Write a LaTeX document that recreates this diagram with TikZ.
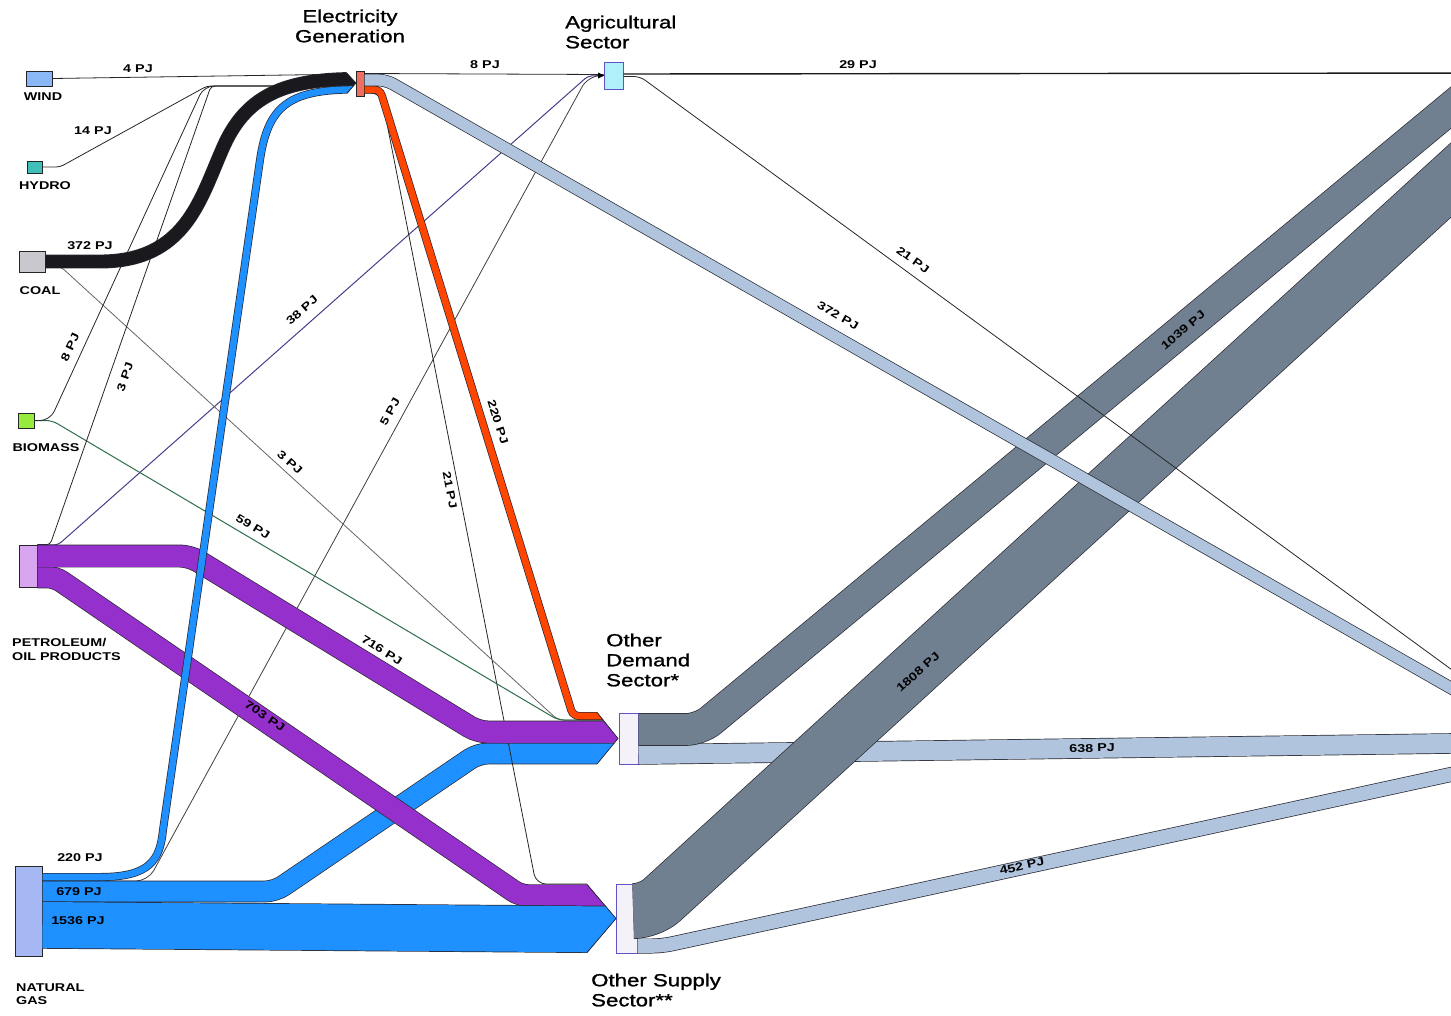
\documentclass[tikz,border=0pt]{standalone}
\usepackage{fontspec}
\setmainfont{Liberation Sans}[FakeStretch=1.27]
\newfontfamily\headfont{Liberation Sans}[FakeStretch=1.27, FakeBold=1.2]
\usetikzlibrary{calc}

\definecolor{windc}{RGB}{138,184,246}
\definecolor{hydroc}{RGB}{64,190,184}
\definecolor{coalbox}{RGB}{200,200,206}
\definecolor{bioc}{RGB}{150,236,60}
\definecolor{petbox}{RGB}{216,166,240}
\definecolor{gasbox}{RGB}{166,184,244}
\definecolor{elecbox}{RGB}{240,110,96}
\definecolor{agribox}{RGB}{176,240,250}
\definecolor{sectbox}{RGB}{244,242,248}
\definecolor{sectedge}{RGB}{96,84,196}
\definecolor{coalband}{RGB}{26,26,30}
\definecolor{gasband}{RGB}{30,144,255}
\definecolor{petband}{RGB}{150,48,204}
\definecolor{elband}{RGB}{255,69,0}
\definecolor{lsblue}{RGB}{176,196,222}
\definecolor{sgrey}{RGB}{112,128,144}
\definecolor{dslate}{RGB}{72,61,139}
\definecolor{bgreen}{RGB}{46,110,74}
\definecolor{bandedge}{RGB}{40,40,48}

% a Sankey band: outline stroke, then the coloured stroke on top
\newcommand\flowband[4][]{%
  \pgfmathsetmacro\flowouter{#2+1.4}%
  \draw[#1, line width=\flowouter pt, draw=bandedge] #4;%
  \draw[#1, line width=#2pt, draw=#3] #4;%
}
% clip regions ending in the arrow-shaped inlets of the two sectors
\newcommand\demandclip{\clip (-10,-10) -- (597,-10) -- (597,712) -- (618,738.5) -- (597,764) -- (597,1100) -- (-10,1100) -- cycle;}
\newcommand\supplyclip{\clip (-10,-10) -- (587,-10) -- (587,884) -- (616,918.5) -- (587,953) -- (587,1100) -- (-10,1100) -- cycle;}

\tikzset{
  thinflow/.style={line width=0.8pt, draw=black!85},
  srcbox/.style={draw=black!85, line width=1pt, inner sep=0pt},
  sector/.style={draw=sectedge, line width=1pt, fill=sectbox, inner sep=0pt},
  lab/.style={font=\fontsize{11.3}{13.5}\selectfont\bfseries, inner sep=0pt},
  title/.style={font=\headfont\fontsize{17.5}{20}\selectfont, inner sep=0pt, align=left},
  chev/.style={draw=bandedge, line width=0.7pt},
}

\begin{document}
\begin{tikzpicture}[x=1pt,y=-1pt]
\useasboundingbox (0,0) rectangle (1451,1015);
\fill[white] (0,0) rectangle (1451,1015);

% ---------- nodes ----------
\node[srcbox, fill=windc, minimum width=26pt, minimum height=15pt] (wind) at (39,78.5) {};
\node[srcbox, fill=hydroc, minimum width=15pt, minimum height=12pt] (hydro) at (34.5,167) {};
\node[srcbox, fill=coalbox, minimum width=26pt, minimum height=21pt] (coal) at (32,261.5) {};
\node[srcbox, fill=bioc, minimum width=16pt, minimum height=15pt] (bio) at (26,420.5) {};
\node[srcbox, fill=petbox, minimum width=18pt, minimum height=42pt] (petro) at (28,566) {};
\node[srcbox, fill=gasbox, minimum width=27pt, minimum height=90pt] (gas) at (28.5,911) {};
\node[srcbox, fill=elecbox, minimum width=8pt, minimum height=25pt] (elec) at (360,83.5) {};
\node[draw=sectedge, line width=1pt, fill=agribox, inner sep=0pt, minimum width=19pt, minimum height=27pt] (agri) at (613.5,75.5) {};
\node[sector, minimum width=19pt, minimum height=51pt] (odem) at (628.5,738.5) {};
\node[sector, minimum width=21pt, minimum height=69pt] (osup) at (626.5,918.5) {};

% free ends at the right margin
\coordinate (r29) at (1500,73);
\coordinate (r21) at (1500,705);
\coordinate (r372) at (1500,716);
\coordinate (r1039) at (1500,67);
\coordinate (r1808) at (1500,135.3);
\coordinate (r638) at (1500,742.8);
\coordinate (r452) at (1500,763.8);

% ---------- thin flows in the background ----------
\draw[thinflow] (elec.east |- 0,73.5) -- (agri.west |- 0,74.5);
\draw[line width=1pt, draw=dslate, rounded corners=4] (petro.north east) -- (58,545) -- (588,76) -- (agri.west);
\draw[thinflow, draw=black!75, rounded corners=12] (gas.east |- 0,881) -- (148,881) -- (588,76) -- (agri.west);
\fill[black] (598,72.5) -- (604,75.5) -- (598,78.5) -- cycle;

% ---------- natural gas to Other Demand (under the petroleum band) ----------
\begin{scope}
  \demandclip
  \flowband[rounded corners=10]{20.4}{gasband}{(gas.east |- 0,891.5) -- (275,891.5) -- (478,753.5) -- (odem.west |- 0,753.5)}
\end{scope}

% ---------- into Other Supply Sector ----------
\begin{scope}
  \supplyclip
  \draw[thinflow, rounded corners=10] (elec.east |- 0,93) -- (381,93) -- (536,884) -- (osup.west |- 0,884);
  \flowband[rounded corners=8]{21.1}{petband}{(petro.east |- 0,577) -- (55,577) -- (520,895.5) -- (osup.west |- 0,895.5)}
  \flowband{46}{gasband}{(gas.east |- 0,925) -- (osup.west |- 0,929.5)}
\end{scope}
\draw[chev] (587,884.5) -- (616,918.5) -- (587,952.5);

% ---------- into Other Demand Sector ----------
\begin{scope}
  \demandclip
  \draw[thinflow, draw=black!60, rounded corners=6] (coal.east |- 0,266) -- (60,266) -- (558,720) -- (odem.west |- 0,720);
  \draw[line width=1pt, draw=bgreen, rounded corners=6] (bio.east) -- (52,420.5) -- (558,720) -- (odem.west |- 0,720);
  \flowband[rounded corners=10]{21.5}{petband}{(petro.east |- 0,556) -- (190,556) -- (478,732) -- (odem.west |- 0,732)}
  \flowband[rounded corners=6]{6.6}{elband}{(elec.east |- 0,89.5) -- (380,89.5) -- (573,716) -- (odem.west |- 0,716)}
\end{scope}
\draw[chev] (597,712.5) -- (618,738.5) -- (597,764);

% ---------- into Electricity Generation ----------
\begin{scope}
  \clip (-10,-10) -- (346,-10) -- (346,72) -- (356,83) -- (347,94) -- (347,1100) -- (-10,1100) -- cycle;
  \draw[thinflow] (wind.east) -- (elec.west |- 0,74);
  \draw[thinflow, rounded corners=4] (hydro.east) -- (60,167) -- (207,86) -- (elec.west |- 0,86);
  \draw[thinflow, rounded corners=10] (bio.east) -- (50,420.5) -- (204,86) -- (elec.west |- 0,86);
  \draw[thinflow, rounded corners=4] (petro.north east) -- (50,545) -- (211,86) -- (elec.west |- 0,86);
  \flowband{12.5}{coalband}{(coal.east) -- (100,261.5) .. controls (185,261.5) and (200,200) .. (222,150) .. controls (245,95) and (285,79) .. (elec.west |- 0,79)}
  \flowband{6.6}{gasband}{(gas.east |- 0,877) -- (100,877) .. controls (150,877) and (160,860) .. (163,830) -- (260,160) .. controls (268,105) and (290,89.5) .. (elec.west |- 0,89.5)}
\end{scope}
\draw[chev] (346,72.5) -- (356,83) -- (347,93);

% ---------- out to the right margin ----------
\flowband{19.1}{lsblue}{(odem.east |- 0,754.5) -- (r638)}
\flowband[rounded corners=10]{13.6}{lsblue}{(osup.east |- 0,946) -- (662,946) -- (r452)}
\flowband[rounded corners=14]{31.2}{sgrey}{(odem.east |- 0,729.5) -- (700,729.5) -- (r1039)}
\flowband[rounded corners=16]{54.2}{sgrey}{(osup.east |- 0,911) -- (650,911) -- (r1808)}
\flowband[rounded corners=8]{11.2}{lsblue}{(elec.east |- 0,80) -- (386,80) -- (r372)}
\draw[line width=1.4pt, draw=black!90] (agri.east |- 0,74) -- (r29);
\draw[thinflow, rounded corners=6] (agri.east |- 0,76.5) -- (640,76.5) -- (r21);

% ---------- flow labels ----------
\node[lab] (q1) at (138,69) {4 PJ};
\node[lab] (q2) at (93,131) {14 PJ};
\node[lab] (q3) at (90,246) {372 PJ};
\node[lab, rotate=65] (q4) at (70,347) {8 PJ};
\node[lab, rotate=71] (q5) at (125,377) {3 PJ};
\node[lab, rotate=41] (q6) at (302,310) {38 PJ};
\node[lab, rotate=-42] (q7) at (290,462) {3 PJ};
\node[lab, rotate=61] (q8) at (390,412) {5 PJ};
\node[lab, rotate=-31] (q9) at (253,527) {59 PJ};
\node[lab, rotate=-32] (q10) at (382,650) {716 PJ};
\node[lab, rotate=-34] (q11) at (265,716) {703 PJ};
\node[lab, rotate=-72] (q12) at (498,422) {220 PJ};
\node[lab, rotate=-79] (q13) at (450,490) {21 PJ};
\node[lab] (q14) at (485,65) {8 PJ};
\node[lab] (q15) at (858,65) {29 PJ};
\node[lab, rotate=-36] (q16) at (913,260) {21 PJ};
\node[lab, rotate=-30] (q17) at (838,316) {372 PJ};
\node[lab, rotate=40] (q18) at (1183,330) {1039 PJ};
\node[lab, rotate=42] (q19) at (918,672) {1808 PJ};
\node[lab, rotate=1] (q20) at (1092,748) {638 PJ};
\node[lab, rotate=12.5] (q21) at (1022,866) {452 PJ};
\node[lab] (q22) at (80,858) {220 PJ};
\node[lab] (q23) at (79,892) {679 PJ};
\node[lab] (q24) at (78,921) {1536 PJ};

% ---------- node labels ----------
\node[lab] (nw) at (43,97) {WIND};
\node[lab] (nh) at (45,186) {HYDRO};
\node[lab] (nc) at (40,291) {COAL};
\node[lab] (nb) at (46,448) {BIOMASS};
\node[lab, align=left, anchor=west, font=\fontsize{11.3}{14}\selectfont\bfseries] (np) at (12,649) {PETROLEUM/\\OIL PRODUCTS};
\node[lab, align=left, anchor=west, font=\fontsize{11.3}{13}\selectfont\bfseries] (ng) at (16,994.5) {NATURAL\\GAS};
\node[title, align=center] (te) at (350,26) {Electricity\\Generation};
\node[title, anchor=west] (ta) at (565,32) {Agricultural\\Sector};
\node[title, anchor=west] (td) at (606,660) {Other\\Demand\\Sector*};
\node[title, anchor=west] (ts) at (591,990) {Other Supply\\Sector**};
\end{tikzpicture}
\end{document}
